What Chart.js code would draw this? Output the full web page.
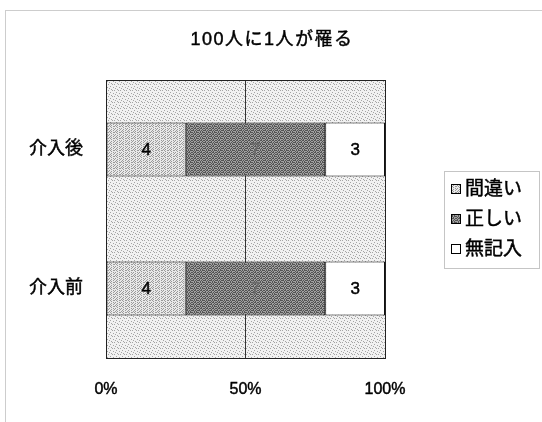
<!DOCTYPE html>
<html>
<head>
<meta charset="utf-8">
<script src="https://cdn.jsdelivr.net/npm/chart.js@4/dist/chart.umd.min.js"></script>
<style>
  html, body { margin: 0; padding: 0; background: #fff; }
  canvas { display: block; }
</style>
</head>
<body>
<canvas id="c" width="542" height="422"></canvas>
<script>
// Survey answers per group (counts), shown as 100% stacked bars
const categories = ['介入後', '介入前'];
const seriesNames = ['間違い', '正しい', '無記入'];
const wrongCounts = [4, 4];
const correctCounts = [7, 7];
const blankCounts = [3, 3];
const xTicks = [0, 50, 100];
const titleText = '100人に1人が罹る';

const FONT = '"Liberation Sans", "Noto Sans CJK JP", sans-serif';
const TEXT_STROKE = 0.45;

const canvas = document.getElementById('c');
const ctx2d = canvas.getContext('2d');

// Stipple tiles: 'x' marks a dot pixel on the base colour
function makePattern(rows, base, dot) {
  const t = document.createElement('canvas');
  t.width = rows[0].length; t.height = rows.length;
  const g = t.getContext('2d');
  g.fillStyle = base;
  g.fillRect(0, 0, t.width, t.height);
  g.fillStyle = dot;
  rows.forEach((r, y) => {
    for (let x = 0; x < r.length; x++) if (r[x] === 'x') g.fillRect(x, y, 1, 1);
  });
  return ctx2d.createPattern(t, 'repeat');
}

const plotBgFill = makePattern([
  'x...x.',
  '......',
  '..x...',
  '.....x',
  '.x....',
  '...x..'
], '#f1f1f1', '#a4a4a4');

const wrongFill = makePattern([
  'x.x..x',
  '...x..',
  '.x...x',
  'x..x..',
  '..x..x',
  '.x.x..'
], '#e9e9e9', '#9a9a9a');

const correctFill = makePattern([
  'x.x.xx',
  '.x.x..',
  'x.xx.x',
  '.x..x.',
  'xx.x.x',
  '..x.x.'
], '#a2a2a2', '#555555');

const blankFill = '#ffffff';

const totals = categories.map((_, i) => wrongCounts[i] + correctCounts[i] + blankCounts[i]);
const toPct = arr => arr.map((v, i) => v / totals[i] * 100);

const seriesCounts = [wrongCounts, correctCounts, blankCounts];
const seriesFills = [wrongFill, correctFill, blankFill];
const labelColors = ['#000000', '#6a6a6a', '#000000'];

const datasets = seriesNames.map((name, k) => ({
  label: name,
  data: toPct(seriesCounts[k]),
  counts: seriesCounts[k],
  backgroundColor: seriesFills[k],
  borderColor: '#111111',
  borderWidth: 1,
  borderSkipped: false,
  barPercentage: 1,
  categoryPercentage: 0.39
}));

// Draw text with a hairline stroke for a slightly heavier face
function heavyText(c, text, x, y, color) {
  c.fillStyle = color;
  c.strokeStyle = color;
  c.lineWidth = TEXT_STROKE;
  c.strokeText(text, x, y);
  c.fillText(text, x, y);
}

// Dotted outer frame of the chart object
const framePlugin = {
  id: 'outerFrame',
  beforeDraw(chart) {
    const c = chart.ctx;
    c.save();
    c.strokeStyle = '#9a9a9a';
    c.lineWidth = 1;
    c.setLineDash([1, 1]);
    c.strokeRect(5.5, 10.5, 600, 500);
    c.restore();
  }
};

// Stippled plot background and dark plot frame
const plotAreaPlugin = {
  id: 'plotArea',
  beforeDraw(chart) {
    const a = chart.chartArea;
    const c = chart.ctx;
    c.save();
    c.fillStyle = plotBgFill;
    c.fillRect(a.left, a.top, a.right - a.left, a.bottom - a.top);
    c.restore();
  },
  afterDatasetsDraw(chart) {
    const a = chart.chartArea;
    const c = chart.ctx;
    c.save();
    c.strokeStyle = '#222222';
    c.lineWidth = 1;
    c.strokeRect(Math.round(a.left) + 0.5, Math.round(a.top) + 0.5,
                 Math.round(a.right - a.left), Math.round(a.bottom - a.top));
    c.restore();
  }
};

// Count labels centred in each segment
const valueLabelPlugin = {
  id: 'valueLabels',
  afterDatasetsDraw(chart) {
    const c = chart.ctx;
    c.save();
    c.font = '17px ' + FONT;
    c.textAlign = 'center';
    c.textBaseline = 'middle';
    chart.data.datasets.forEach((ds, k) => {
      const meta = chart.getDatasetMeta(k);
      meta.data.forEach((el, i) => {
        const p = el.getCenterPoint();
        heavyText(c, String(ds.counts[i]), p.x, p.y + 1, labelColors[k]);
      });
    });
    c.restore();
  }
};

// Title centred over the whole canvas
const titlePlugin = {
  id: 'centredTitle',
  afterDraw(chart) {
    const c = chart.ctx;
    c.save();
    c.font = '18px ' + FONT;
    if ('letterSpacing' in c) c.letterSpacing = '1.5px';
    c.textAlign = 'center';
    c.textBaseline = 'middle';
    heavyText(c, titleText, chart.width / 2 + 1, 40, '#000');
    c.restore();
  }
};

// Boxed legend on the right
const legendPlugin = {
  id: 'boxLegend',
  afterDraw(chart) {
    const c = chart.ctx;
    const x0 = 444, y0 = 171, w = 95, h = 97;
    c.save();
    c.fillStyle = '#ffffff';
    c.fillRect(x0, y0, w, h);
    c.strokeStyle = '#8a8a8a';
    c.lineWidth = 1;
    c.setLineDash([1, 1]);
    c.strokeRect(x0 + 0.5, y0 + 0.5, w, h);
    c.setLineDash([]);
    c.font = '19px ' + FONT;
    c.textAlign = 'left';
    c.textBaseline = 'middle';
    chart.data.datasets.forEach((ds, k) => {
      const cy = 189 + k * 30;
      c.fillStyle = ds.backgroundColor;
      c.fillRect(451, cy - 5, 10, 10);
      c.strokeStyle = '#000';
      c.lineWidth = 1;
      c.strokeRect(451.5, cy - 4.5, 9, 9);
      heavyText(c, ds.label, 465, cy + 1, '#000');
    });
    c.restore();
  }
};

new Chart(canvas, {
  type: 'bar',
  data: { labels: categories, datasets },
  options: {
    responsive: false,
    animation: false,
    indexAxis: 'y',
    layout: { padding: { top: 80, left: 0, right: 157, bottom: 0 } },
    plugins: {
      legend: { display: false },
      title: { display: false },
      tooltip: { enabled: false }
    },
    scales: {
      x: {
        stacked: true,
        min: 0,
        max: 100,
        afterBuildTicks(scale) { scale.ticks = xTicks.map(v => ({ value: v })); },
        afterFit(scale) { scale.height = 64; },
        ticks: {
          callback: v => v + '%',
          font: { family: FONT, size: 16 },
          color: '#000',
          textStrokeColor: '#000',
          textStrokeWidth: TEXT_STROKE,
          padding: 22,
          maxRotation: 0
        },
        grid: {
          drawTicks: false,
          lineWidth: 1,
          color: c => (c.tick && c.tick.value === 50 ? '#333333' : 'rgba(0,0,0,0)')
        },
        border: { display: false }
      },
      y: {
        stacked: true,
        afterFit(scale) { scale.width = 106; },
        ticks: {
          font: { family: FONT, size: 18 },
          color: '#000',
          textStrokeColor: '#000',
          textStrokeWidth: TEXT_STROKE,
          padding: 23
        },
        grid: { display: false, drawTicks: false },
        border: { display: false }
      }
    }
  },
  plugins: [framePlugin, plotAreaPlugin, valueLabelPlugin, titlePlugin, legendPlugin]
});
</script>
</body>
</html>
